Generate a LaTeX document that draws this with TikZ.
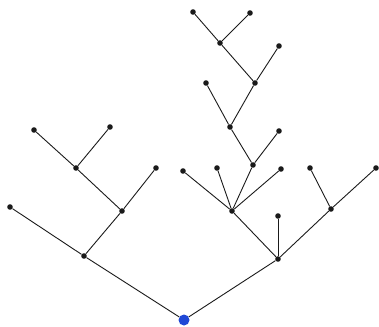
\documentclass[tikz,border=0pt]{standalone}
\usepackage{tikz}
\usetikzlibrary{positioning}
\definecolor{blue}{RGB}{32,72,214}
\definecolor{ink}{RGB}{26,26,26}

\begin{document}
\begin{tikzpicture}[x=1pt, y=-1pt,
    vert/.style={circle, fill=ink, inner sep=0pt, minimum size=5.6pt},
    rootvert/.style={circle, fill=blue, inner sep=0pt, minimum size=11pt},
    edge/.style={ink, line width=0.9pt}]

\useasboundingbox (0,0) rectangle (379,326);

%---------------------------------------
% Root and first level
%---------------------------------------
\node[rootvert] (root) at (184,320) {};
\node[vert] (L) at (84,256) {};
\node[vert] (R) at (278,259) {};

%---------------------------------------
% Left subtree
%---------------------------------------
\node[vert] (LA) at (10,207) {};
\node[vert] (LB) at (122,211) {};
\node[vert] (LBa) at (76,168) {};
\node[vert] (LBb) at (156,168) {};
\node[vert] (LBaa) at (34,130) {};
\node[vert] (LBab) at (110,127) {};

%---------------------------------------
% Right subtree
%---------------------------------------
\node[vert] (RA) at (232,211) {};
\node[vert] (RB) at (278,216) {};
\node[vert] (RC) at (331,209) {};
\node[vert] (RCa) at (310,168) {};
\node[vert] (RCb) at (376,168) {};

% fan of four above RA
\node[vert] (RAa) at (183,171) {};
\node[vert] (RAb) at (217,168) {};
\node[vert] (RAc) at (253,165) {};
\node[vert] (RAd) at (281,169) {};

% tall branch
\node[vert] (T1) at (230,127) {};
\node[vert] (T1r) at (279,131) {};
\node[vert] (T2l) at (206,83) {};
\node[vert] (T2) at (255,83) {};
\node[vert] (T3) at (220,43) {};
\node[vert] (T3r) at (279,46) {};
\node[vert] (T4l) at (193,12) {};
\node[vert] (T4r) at (250,13) {};

%---------------------------------------
% Edges
%---------------------------------------
\foreach \a/\b in {root/L, root/R,
                   L/LA, L/LB, LB/LBa, LB/LBb, LBa/LBaa, LBa/LBab,
                   R/RA, R/RB, R/RC, RC/RCa, RC/RCb,
                   RA/RAa, RA/RAb, RA/RAc, RA/RAd,
                   RAc/T1, RAc/T1r, T1/T2l, T1/T2,
                   T2/T3, T2/T3r, T3/T4l, T3/T4r}
  \draw[edge] (\a) -- (\b);

\end{tikzpicture}
\end{document}
